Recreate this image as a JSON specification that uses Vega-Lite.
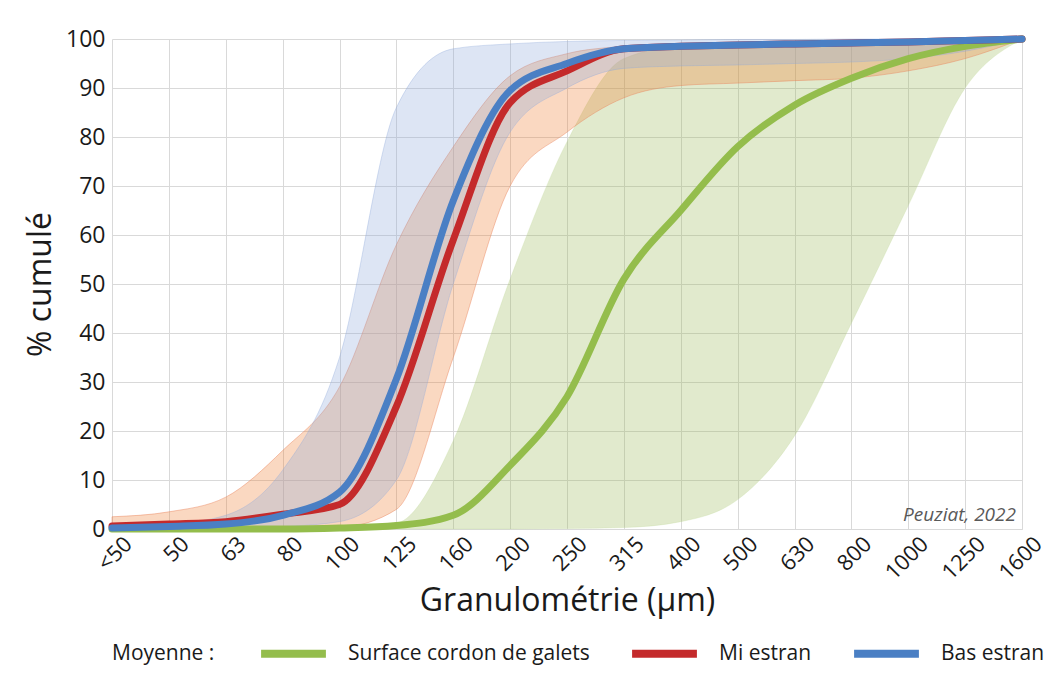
{
  "$schema": "https://vega.github.io/schema/vega-lite/v6.json",
  "width": 910,
  "height": 490,
  "padding": {"left": 24, "top": 25, "right": 16, "bottom": 2},
  "background": "white",
  "config": {
    "view": {"stroke": null},
    "font": "Open Sans",
    "axis": {
      "labelFont": "Open Sans",
      "titleFont": "Open Sans",
      "labelColor": "#1a1a1a",
      "titleColor": "#1a1a1a",
      "gridColor": "#D9D9D9",
      "gridWidth": 1,
      "domainColor": "#D9D9D9",
      "ticks": false,
      "titleFontWeight": "normal"
    },
    "axisY": {
      "title": "% cumulé",
      "titleFontSize": 32,
      "titlePadding": 8,
      "labelFontSize": 23,
      "labelPadding": 7,
      "labelOverlap": false,
      "values": [0, 10, 20, 30, 40, 50, 60, 70, 80, 90, 100],
      "domain": false
    },
    "legend": {"labelFont": "Open Sans", "titleFont": "Open Sans"}
  },
  "datasets": {
    "courbes": [
      {"taille": "<50", "serie": "Surface cordon de galets", "moyenne": 0, "min": 0, "max": 0},
      {"taille": "50", "serie": "Surface cordon de galets", "moyenne": 0, "min": 0, "max": 0},
      {"taille": "63", "serie": "Surface cordon de galets", "moyenne": 0, "min": 0, "max": 0},
      {"taille": "80", "serie": "Surface cordon de galets", "moyenne": 0, "min": 0, "max": 0.1},
      {"taille": "100", "serie": "Surface cordon de galets", "moyenne": 0.2, "min": 0, "max": 0.4},
      {"taille": "125", "serie": "Surface cordon de galets", "moyenne": 0.7, "min": 0, "max": 1.2},
      {"taille": "160", "serie": "Surface cordon de galets", "moyenne": 2.8, "min": 0, "max": 18},
      {"taille": "200", "serie": "Surface cordon de galets", "moyenne": 13, "min": 0, "max": 51},
      {"taille": "250", "serie": "Surface cordon de galets", "moyenne": 27, "min": 0.1, "max": 79},
      {"taille": "315", "serie": "Surface cordon de galets", "moyenne": 51, "min": 0.3, "max": 96},
      {"taille": "400", "serie": "Surface cordon de galets", "moyenne": 65, "min": 1.5, "max": 98.5},
      {"taille": "500", "serie": "Surface cordon de galets", "moyenne": 78, "min": 6, "max": 99},
      {"taille": "630", "serie": "Surface cordon de galets", "moyenne": 86.5, "min": 19, "max": 99.2},
      {"taille": "800", "serie": "Surface cordon de galets", "moyenne": 92, "min": 42, "max": 99.4},
      {"taille": "1000", "serie": "Surface cordon de galets", "moyenne": 96, "min": 66, "max": 99.6},
      {"taille": "1250", "serie": "Surface cordon de galets", "moyenne": 98.5, "min": 90, "max": 99.8},
      {"taille": "1600", "serie": "Surface cordon de galets", "moyenne": 100, "min": 100, "max": 100},
      {"taille": "<50", "serie": "Mi estran", "moyenne": 0.6, "min": 0, "max": 2.5},
      {"taille": "50", "serie": "Mi estran", "moyenne": 1, "min": 0, "max": 3.5},
      {"taille": "63", "serie": "Mi estran", "moyenne": 1.5, "min": 0, "max": 6.5},
      {"taille": "80", "serie": "Mi estran", "moyenne": 3, "min": 0, "max": 16},
      {"taille": "100", "serie": "Mi estran", "moyenne": 5, "min": 0.3, "max": 29},
      {"taille": "125", "serie": "Mi estran", "moyenne": 25, "min": 4, "max": 58},
      {"taille": "160", "serie": "Mi estran", "moyenne": 59, "min": 35, "max": 78},
      {"taille": "200", "serie": "Mi estran", "moyenne": 87, "min": 70, "max": 92.5},
      {"taille": "250", "serie": "Mi estran", "moyenne": 93.5, "min": 81, "max": 97},
      {"taille": "315", "serie": "Mi estran", "moyenne": 98, "min": 88, "max": 98.5},
      {"taille": "400", "serie": "Mi estran", "moyenne": 98.5, "min": 90.5, "max": 99},
      {"taille": "500", "serie": "Mi estran", "moyenne": 98.8, "min": 91, "max": 99.3},
      {"taille": "630", "serie": "Mi estran", "moyenne": 99, "min": 91.5, "max": 99.5},
      {"taille": "800", "serie": "Mi estran", "moyenne": 99.2, "min": 92, "max": 99.6},
      {"taille": "1000", "serie": "Mi estran", "moyenne": 99.4, "min": 93.5, "max": 99.7},
      {"taille": "1250", "serie": "Mi estran", "moyenne": 99.7, "min": 96, "max": 99.8},
      {"taille": "1600", "serie": "Mi estran", "moyenne": 100, "min": 100, "max": 100},
      {"taille": "<50", "serie": "Bas estran", "moyenne": 0.2, "min": 0, "max": 0.5},
      {"taille": "50", "serie": "Bas estran", "moyenne": 0.5, "min": 0, "max": 1},
      {"taille": "63", "serie": "Bas estran", "moyenne": 1, "min": 0.2, "max": 2.8},
      {"taille": "80", "serie": "Bas estran", "moyenne": 2.8, "min": 0.5, "max": 12},
      {"taille": "100", "serie": "Bas estran", "moyenne": 7.5, "min": 1.5, "max": 35},
      {"taille": "125", "serie": "Bas estran", "moyenne": 30.6, "min": 10, "max": 86},
      {"taille": "160", "serie": "Bas estran", "moyenne": 67, "min": 50, "max": 98},
      {"taille": "200", "serie": "Bas estran", "moyenne": 89.5, "min": 81, "max": 99},
      {"taille": "250", "serie": "Bas estran", "moyenne": 95, "min": 90, "max": 99.5},
      {"taille": "315", "serie": "Bas estran", "moyenne": 98, "min": 94, "max": 99.7},
      {"taille": "400", "serie": "Bas estran", "moyenne": 98.5, "min": 94.5, "max": 99.8},
      {"taille": "500", "serie": "Bas estran", "moyenne": 98.8, "min": 94.7, "max": 99.9},
      {"taille": "630", "serie": "Bas estran", "moyenne": 99, "min": 95, "max": 99.9},
      {"taille": "800", "serie": "Bas estran", "moyenne": 99.2, "min": 95.3, "max": 100},
      {"taille": "1000", "serie": "Bas estran", "moyenne": 99.4, "min": 96, "max": 100},
      {"taille": "1250", "serie": "Bas estran", "moyenne": 99.7, "min": 97.5, "max": 100},
      {"taille": "1600", "serie": "Bas estran", "moyenne": 100, "min": 100, "max": 100}
    ],
    "source": [
      {"taille": "1600", "y": 2.8, "texte": "Peuziat, 2022"}
    ]
  },
  "encoding": {
    "x": {
      "field": "taille",
      "type": "ordinal",
      "sort": ["<50", "50", "63", "80", "100", "125", "160", "200", "250", "315", "400", "500", "630", "800", "1000", "1250", "1600"],
      "scale": {"type": "point", "padding": 0},
      "axis": {
        "title": "Granulométrie (µm)",
        "titleFontSize": 32,
        "titlePadding": 2,
        "labelAngle": -45,
        "labelFontSize": 22,
        "labelPadding": 4,
        "labelOffset": 9,
        "labelOverlap": false,
        "grid": true
      }
    }
  },
  "layer": [
    {
      "data": {"name": "courbes"},
      "transform": [{"filter": "datum.serie === 'Surface cordon de galets'"}],
      "mark": {"type": "area", "interpolate": "monotone", "fill": "#9BBB59", "fillOpacity": 0.3, "stroke": "#C5D9A0", "strokeWidth": 1, "strokeOpacity": 0.3},
      "encoding": {
        "y": {"field": "min", "type": "quantitative", "title": "% cumulé", "scale": {"domain": [0, 100], "nice": false}},
        "y2": {"field": "max"}
      }
    },
    {
      "data": {"name": "courbes"},
      "transform": [{"filter": "datum.serie === 'Mi estran'"}],
      "mark": {"type": "area", "interpolate": "monotone", "fill": "#ED7D31", "fillOpacity": 0.3, "stroke": "#E8825A", "strokeWidth": 1, "strokeOpacity": 0.45},
      "encoding": {
        "y": {"field": "min", "type": "quantitative", "title": "% cumulé"},
        "y2": {"field": "max"}
      }
    },
    {
      "data": {"name": "courbes"},
      "transform": [{"filter": "datum.serie === 'Bas estran'"}],
      "mark": {"type": "area", "interpolate": "monotone", "fill": "#8EA9DB", "fillOpacity": 0.3, "stroke": "#8EA9DB", "strokeWidth": 1, "strokeOpacity": 0.35},
      "encoding": {
        "y": {"field": "min", "type": "quantitative", "title": "% cumulé"},
        "y2": {"field": "max"}
      }
    },
    {
      "data": {"name": "courbes"},
      "mark": {"type": "line", "interpolate": "monotone", "strokeWidth": 7, "strokeCap": "round"},
      "encoding": {
        "y": {"field": "moyenne", "type": "quantitative", "title": "% cumulé"},
        "color": {
          "field": "serie",
          "type": "nominal",
          "sort": ["Surface cordon de galets", "Mi estran", "Bas estran"],
          "scale": {"domain": ["Surface cordon de galets", "Mi estran", "Bas estran"], "range": ["#94BD4C", "#C42A2B", "#4A7FC4"]},
          "legend": {
            "title": "Moyenne :",
            "orient": "bottom",
            "direction": "horizontal",
            "titleOrient": "left",
            "titleAnchor": "middle",
            "titleBaseline": "top",
            "titleFontSize": 21,
            "titleFontWeight": "normal",
            "titleColor": "#1a1a1a",
            "titlePadding": 42,
            "labelFontSize": 21,
            "labelColor": "#1a1a1a",
            "labelOffset": 18,
            "symbolType": "stroke",
            "symbolSize": 4200,
            "symbolStrokeWidth": 8,
            "columnPadding": 26,
            "offset": 0,
            "labelLimit": 400
          }
        }
      }
    },
    {
      "data": {"name": "source"},
      "mark": {"type": "text", "align": "right", "baseline": "middle", "dx": -6, "fontStyle": "italic", "fontSize": 19, "color": "#595959"},
      "encoding": {
        "y": {"field": "y", "type": "quantitative", "title": "% cumulé"},
        "text": {"field": "texte"}
      }
    }
  ]
}
